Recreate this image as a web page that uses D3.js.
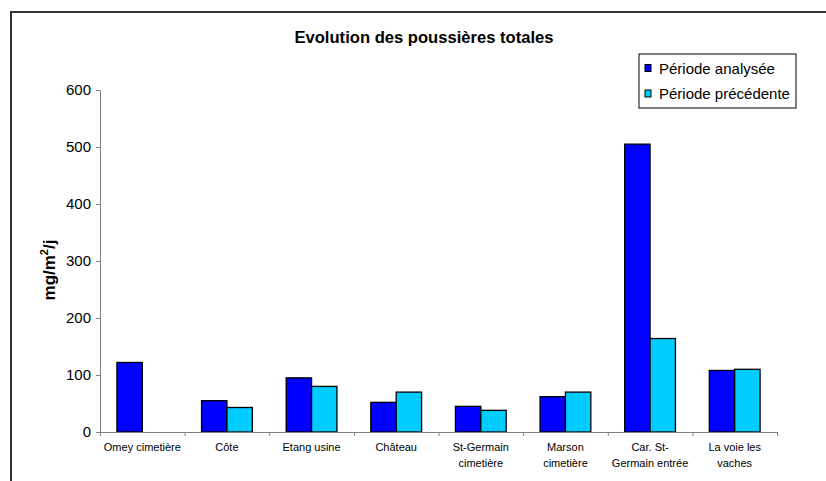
<!DOCTYPE html>
<html>
<head>
<meta charset="utf-8">
<script src="https://cdn.jsdelivr.net/npm/d3@7/dist/d3.min.js"></script>
<style>
  html, body { margin: 0; padding: 0; background: #fff; }
  svg { display: block; font-family: Arial, "Liberation Sans", sans-serif; }
</style>
</head>
<body>
<svg id="chart" width="826" height="481"></svg>
<script>
const categories = ["Omey cimetière", "Côte", "Etang usine", "Château", "St-Germain\ncimetière", "Marson\ncimetière", "Car. St-\nGermain entrée", "La voie les\nvaches"];
const seriesNames = ["Période analysée", "Période précédente"];
const analysee = [122, 55, 95, 52, 45, 62, 505, 108];
const precedente = [null, 43, 80, 70, 38, 70, 164, 110];
const yTicks = [0, 100, 200, 300, 400, 500, 600];
const colors = ["#0000FF", "#00CCFF"];
const title = "Evolution des poussières totales";

(function () {
const svg = d3.select("#chart");
const pLeft = 100, pRight = 777, pTop = 90, pBottom = 432;

// outer frame
svg.append("path")
  .attr("d", "M11,490 L11,12 L830,12")
  .attr("fill", "none").attr("stroke", "#333").attr("stroke-width", 2);

// title
svg.append("text").attr("x", 424).attr("y", 43)
  .attr("text-anchor", "middle").attr("font-size", 16.6).attr("font-weight", "bold")
  .text(title);

const y = d3.scaleLinear().domain([0, 600]).range([pBottom, pTop]);
const x = d3.scaleBand().domain(categories).range([pLeft, pRight]).padding(0);
const xi = d3.scaleBand().domain(seriesNames).range([0, x.bandwidth()]).paddingInner(0).paddingOuter(0.6667);

const rows = categories.map((c, i) => ({ c, vals: [analysee[i], precedente[i]] }));

// bars
const g = svg.append("g");
rows.forEach(r => {
  r.vals.forEach((v, k) => {
    if (v == null) return;
    g.append("rect")
      .attr("x", x(r.c) + xi(seriesNames[k]))
      .attr("y", y(v))
      .attr("width", xi.bandwidth())
      .attr("height", y(0) - y(v))
      .attr("fill", colors[k])
      .attr("stroke", "#000").attr("stroke-width", 1.3);
  });
});

// y axis
const yAxis = svg.append("g").attr("transform", `translate(${pLeft},0)`)
  .call(d3.axisLeft(y).tickValues(yTicks).tickSize(4).tickPadding(5).tickSizeOuter(0));
yAxis.select(".domain").attr("stroke", "#808080");
yAxis.selectAll(".tick line").attr("stroke", "#808080");
yAxis.selectAll(".tick text").attr("font-size", 15).attr("fill", "#000")
  .attr("font-family", "Arial, 'Liberation Sans', sans-serif");

// x axis (boundary ticks)
const xb = d3.scaleLinear().domain([0, categories.length]).range([pLeft, pRight]);
const xAxis = svg.append("g").attr("transform", `translate(0,${pBottom})`)
  .call(d3.axisBottom(xb).tickValues(d3.range(categories.length + 1)).tickFormat("").tickSize(4).tickSizeOuter(0));
xAxis.select(".domain").attr("stroke", "#808080");
xAxis.selectAll(".tick line").attr("stroke", "#808080");

// x labels
categories.forEach(c => {
  const lines = c.split("\n");
  const t = svg.append("text")
    .attr("text-anchor", "middle").attr("font-size", 11).attr("fill", "#000")
    .attr("x", x(c) + x.bandwidth() / 2).attr("y", 451);
  lines.forEach((ln, j) => {
    t.append("tspan").attr("x", x(c) + x.bandwidth() / 2).attr("dy", j === 0 ? 0 : 16).text(ln);
  });
});

// y label
const yl = svg.append("text")
  .attr("transform", "translate(55,270) rotate(-90)")
  .attr("text-anchor", "middle").attr("font-size", 17).attr("font-weight", "bold");
yl.append("tspan").text("mg/m");
yl.append("tspan").attr("font-size", 11).attr("dy", -7).text("2");
yl.append("tspan").attr("dy", 7).text("/j");

// legend
const lg = svg.append("g");
lg.append("rect").attr("x", 639).attr("y", 54).attr("width", 157).attr("height", 54)
  .attr("fill", "#fff").attr("stroke", "#000").attr("stroke-width", 1);
seriesNames.forEach((s, k) => {
  const cy = 68 + k * 25.5;
  lg.append("rect").attr("x", 645).attr("y", cy - 3.5).attr("width", 6).attr("height", 7)
    .attr("fill", colors[k]).attr("stroke", "#000").attr("stroke-width", 1);
  lg.append("text").attr("x", 659).attr("y", cy + 5.5).attr("font-size", 15).text(s);
});
})();
</script>
</body>
</html>
